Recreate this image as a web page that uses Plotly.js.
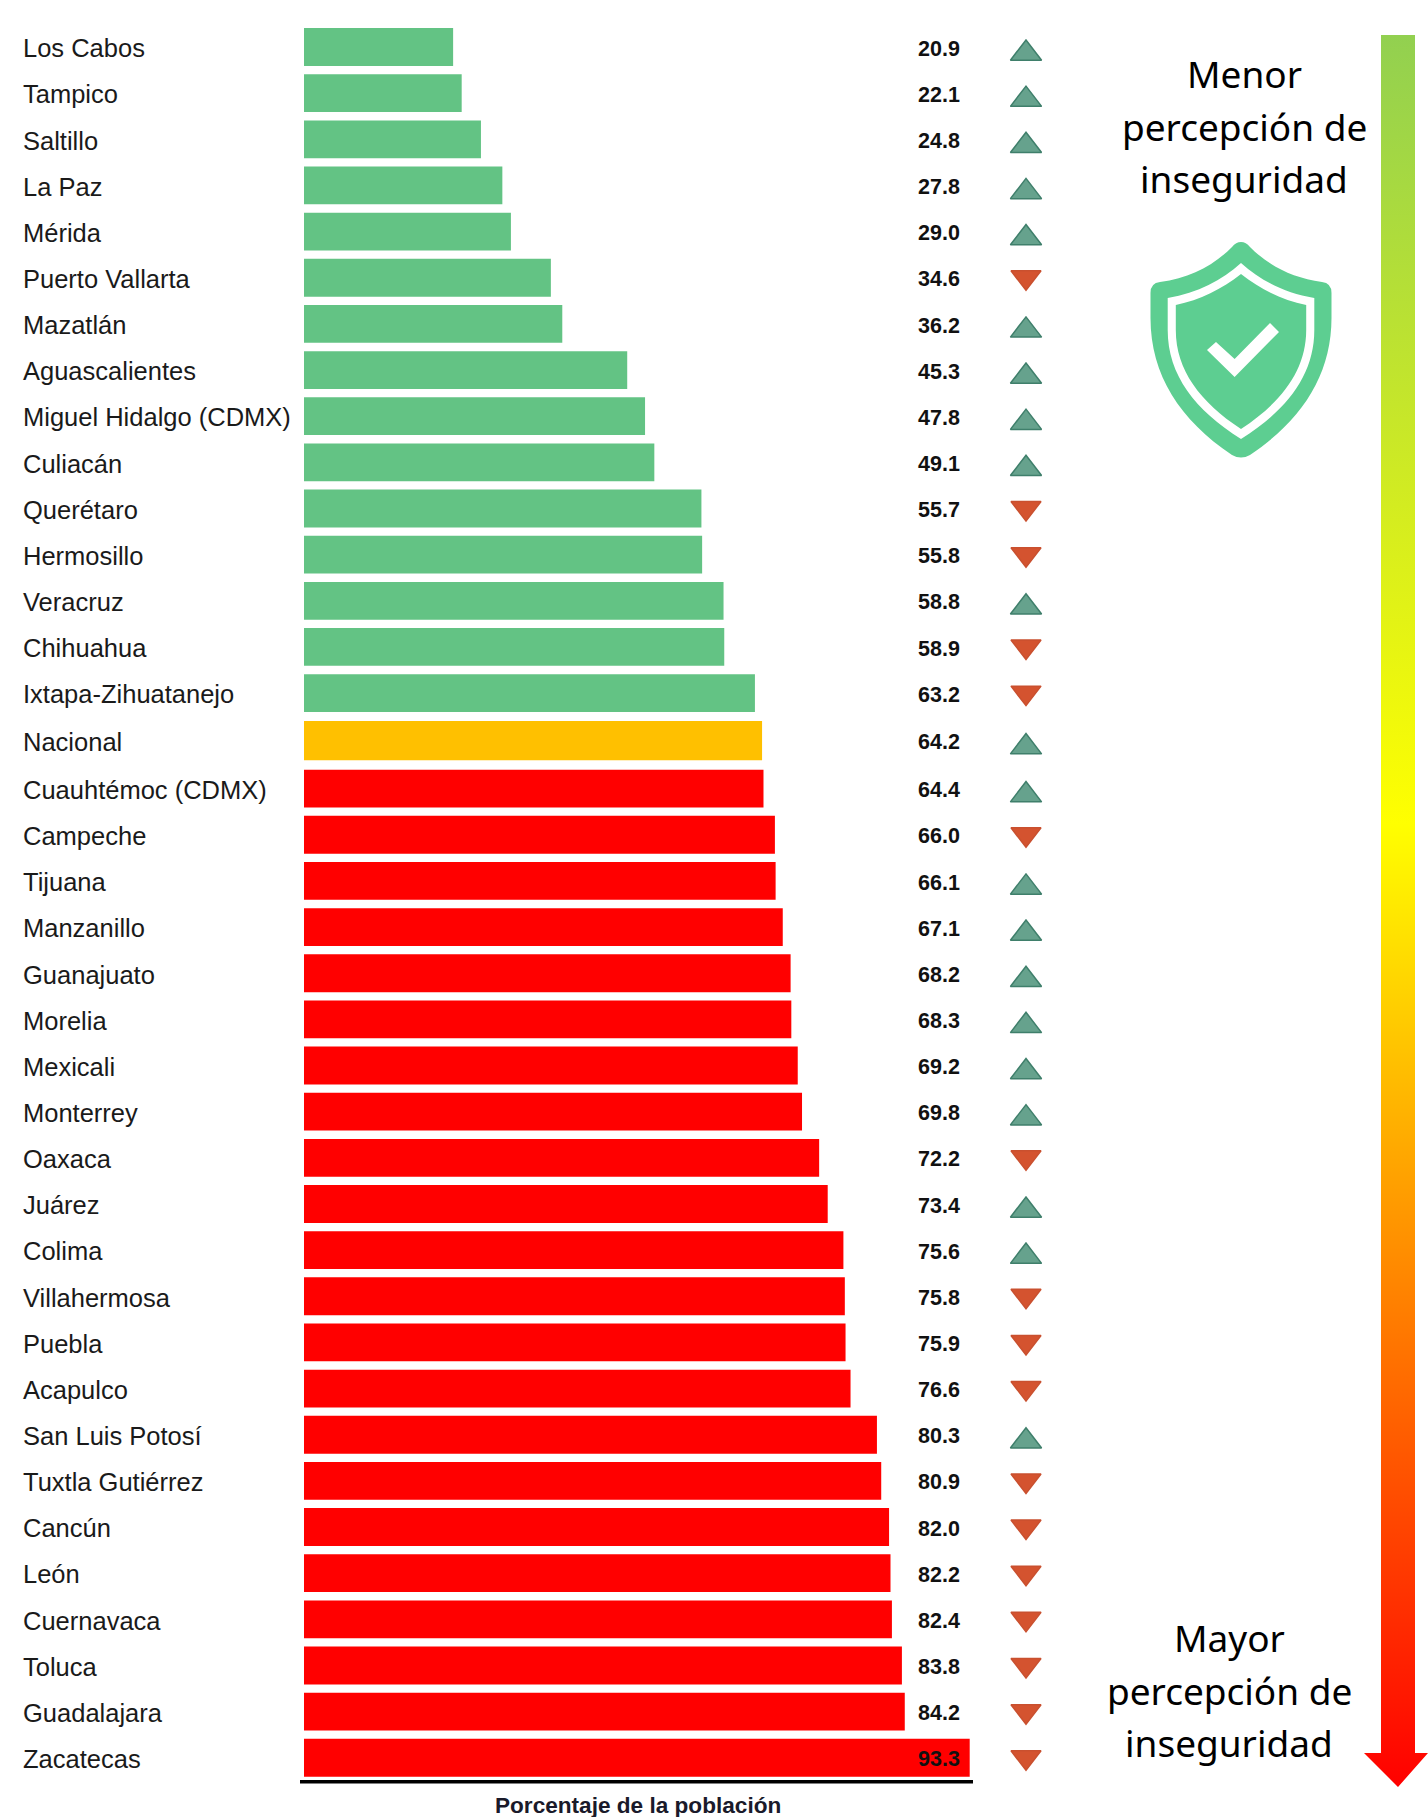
<!DOCTYPE html>
<html><head><meta charset="utf-8">
<script src="https://cdn.plot.ly/plotly-3.0.1.min.js"></script>
<style>html,body{margin:0;padding:0;background:#fff}</style></head>
<body><div id="chart" style="width:1428px;height:1817px"></div>
<script>
const cities=["Los Cabos","Tampico","Saltillo","La Paz","Mérida","Puerto Vallarta","Mazatlán","Aguascalientes","Miguel Hidalgo (CDMX)","Culiacán","Querétaro","Hermosillo","Veracruz","Chihuahua","Ixtapa-Zihuatanejo","Nacional","Cuauhtémoc (CDMX)","Campeche","Tijuana","Manzanillo","Guanajuato","Morelia","Mexicali","Monterrey","Oaxaca","Juárez","Colima","Villahermosa","Puebla","Acapulco","San Luis Potosí","Tuxtla Gutiérrez","Cancún","León","Cuernavaca","Toluca","Guadalajara","Zacatecas"];
const values=[20.9,22.1,24.8,27.8,29.0,34.6,36.2,45.3,47.8,49.1,55.7,55.8,58.8,58.9,63.2,64.2,64.4,66.0,66.1,67.1,68.2,68.3,69.2,69.8,72.2,73.4,75.6,75.8,75.9,76.6,80.3,80.9,82.0,82.2,82.4,83.8,84.2,93.3];
const trend=["up","up","up","up","up","down","up","up","up","up","down","down","up","down","down","up","up","down","up","up","up","up","up","up","down","up","up","down","down","down","up","down","down","down","down","down","down","down"];

const W=1428,H=1817,X0=304,PXU=7.135,Y0=47,PITCH=46.15;
const row=i=>i+(i>=16?0.07:i>=15?0.03:0);
const rows=cities.map((_,i)=>row(i));
const colour=i=>i<15?"#63C384":i===15?"#FFC000":"#FF0000";
const colX=px=>(px-X0)/PXU;
const pp=d=>d.replace(/(-?[\d.]+) (-?[\d.]+)/g,(m,a,b)=>(a/W).toFixed(5)+" "+(1-b/H).toFixed(5));
const idxUp=trend.flatMap((t,i)=>t==="up"?[i]:[]), idxDown=trend.flatMap((t,i)=>t==="down"?[i]:[]);

const gradStops=[[0,"#92D050"],[0.45,"#FFFF00"],[1,"#FF0000"]];
const ax=px=>colX(px), ay=py=>(py-Y0)/PITCH;

const traces=[
 {type:"scatter",mode:"lines",hoverinfo:"skip",line:{width:0},fill:"toself",
  fillgradient:{type:"vertical",colorscale:gradStops.map(s=>[1-s[0],s[1]]).reverse()},
  x:[1381,1415,1415,1428,1398,1364,1381,1381].map(ax),
  y:[35,35,1753,1753,1787,1753,1753,35].map(ay)},
 {type:"bar",orientation:"h",x:values,y:rows,width:cities.map((_,i)=>i===15?0.85:0.82),marker:{color:cities.map((_,i)=>colour(i)),line:{width:0}},hoverinfo:"x+text",text:cities,textposition:"none"},
 {type:"scatter",mode:"text",x:rows.map(()=>colX(23)),y:rows.map(r=>r+0.085),text:cities,textposition:"middle right",textfont:{family:"Liberation Sans",size:25.5,color:"#1a1a1a"},hoverinfo:"skip"},
 {type:"scatter",mode:"text",x:rows.map(()=>colX(918)),y:rows.map(r=>r+0.07),text:values.map(v=>v.toFixed(1)),textposition:"middle right",textfont:{family:"Liberation Sans",size:21.5,color:"#111",weight:700},hoverinfo:"skip"},
 {type:"scatter",mode:"markers",x:idxUp.map(()=>colX(1026)),y:idxUp.map(i=>rows[i]+0.14),marker:{symbol:"triangle-up",size:27,color:"#66A28D",line:{color:"#3F7F6B",width:1.5}},hoverinfo:"skip"},
 {type:"scatter",mode:"markers",x:idxDown.map(()=>colX(1026)),y:idxDown.map(i=>rows[i]-0.01),marker:{symbol:"triangle-down",size:26,color:"#D4532F",line:{color:"#C9502F",width:1.5}},hoverinfo:"skip"}
];
const bigFont={family:"Noto Sans",size:37,color:"#000"};
const big=(text,x,y)=>({text,x:x/W,y:1-y/H,xref:"paper",yref:"paper",showarrow:false,xanchor:"center",yanchor:"middle",font:bigFont});
const layout={width:W,height:H,margin:{l:0,r:0,t:0,b:0,pad:0},showlegend:false,paper_bgcolor:"#fff",plot_bgcolor:"#fff",
 xaxis:{range:[-X0/PXU,(W-X0)/PXU],visible:false,fixedrange:true},
 yaxis:{range:[(H-Y0)/PITCH,-Y0/PITCH],visible:false,fixedrange:true},
 annotations:[
  big("Menor",1244,74),big("percepción de",1244,126),big("inseguridad",1244,178),
  big("Mayor",1229,1637),big("percepción de",1229,1690),big("inseguridad",1229,1742),
  {text:"<b>Porcentaje de la población</b>",x:638/W,y:1-1805/H,xref:"paper",yref:"paper",showarrow:false,xanchor:"center",yanchor:"middle",font:{family:"Liberation Sans",size:22.6,color:"#1a1a2a"}}
 ],
 shapes:[
  {type:"rect",xref:"paper",yref:"paper",x0:300/W,x1:973/W,y0:1-1780/H,y1:1-1783.5/H,fillcolor:"#000",line:{width:0}},
  {type:"path",xref:"paper",yref:"paper",fillcolor:"#5DCE91",line:{width:0},path:pp("M1241 242 Q1236 242 1232 247 C1213 266 1190 278 1160 282 Q1150.5 283 1150.5 293 L1150.5 318 C1150.5 375 1180 420 1232 455 Q1241 460 1250 455 C1302 420 1331.5 375 1331.5 318 L1331.5 293 Q1331.5 283 1322 282 C1292 278 1269 266 1250 247 Q1246 242 1241 242 Z")},
  {type:"path",xref:"paper",yref:"paper",fillcolor:"#FFFFFF",line:{width:0},path:pp("M1241 263 C1222 280 1198 293 1167.7 298 L1167.7 330 C1167.7 375 1195 410 1241 439 C1287 410 1314.3 375 1314.3 330 L1314.3 298 C1284 293 1260 280 1241 263 Z")},
  {type:"path",xref:"paper",yref:"paper",fillcolor:"#5DCE91",line:{width:0},path:pp("M1241 274 C1222 289 1200 300 1175.8 305 L1175.8 330 C1175.8 370 1200 402 1241 429 C1282 402 1306.2 370 1306.2 330 L1306.2 305 C1282 300 1260 289 1241 274 Z")},
  {type:"path",xref:"paper",yref:"paper",fillcolor:"#FFFFFF",line:{width:0},path:pp("M1216 342 L1234.6 359 L1270 323 L1279 332 L1234.6 377 L1207 350 Z")}
 ]};
Plotly.newPlot("chart",traces,layout,{displayModeBar:false,staticPlot:true});
</script></body></html>
